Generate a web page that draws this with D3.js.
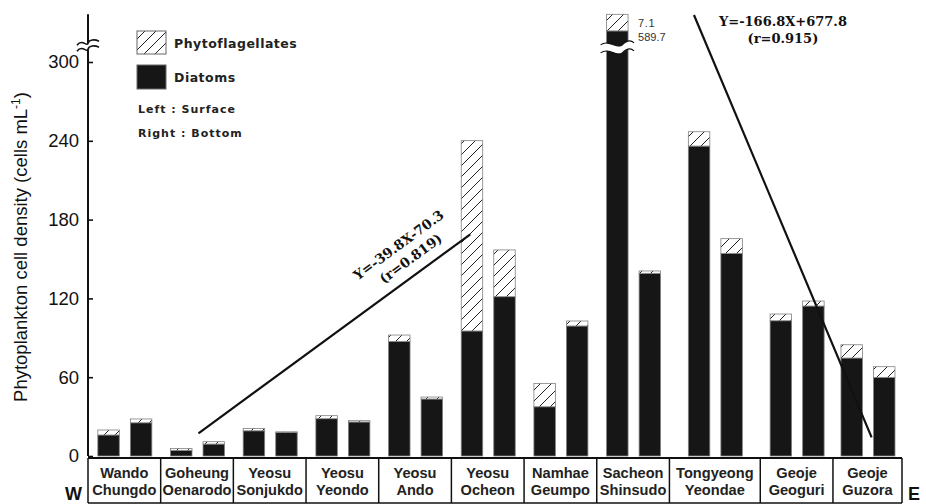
<!DOCTYPE html>
<html>
<head>
<meta charset="utf-8">
<script src="https://cdn.jsdelivr.net/npm/d3@7"></script>
<style>
  html, body { margin: 0; padding: 0; background: #fff; }
  svg { display: block; }
</style>
</head>
<body>
<svg id="chart" width="926" height="504"></svg>
<script>
// Stations, west to east (two-line labels)
const stations = [
  ["Wando", "Chungdo"], ["Goheung", "Oenarodo"], ["Yeosu", "Sonjukdo"],
  ["Yeosu", "Yeondo"], ["Yeosu", "Ando"], ["Yeosu", "Ocheon"],
  ["Namhae", "Geumpo"], ["Sacheon", "Shinsudo"], ["Tongyeong", "Yeondae"],
  ["Geoje", "Geoguri"], ["Geoje", "Guzora"]
];
// Cell densities (cells mL-1)
const surfaceDiatoms = [16.0, 4.3, 19.2, 28.4, 87.3, 95.2, 37.5, 589.7, 236.0, 103.0, 74.6];
const surfacePhyto   = [3.8, 1.5, 1.8, 2.3, 4.8, 144.9, 17.8, 7.1, 10.9, 5.1, 10.1];
const bottomDiatoms  = [25.3, 9.1, 18.0, 25.9, 43.4, 121.3, 99.0, 139.1, 154.3, 114.2, 59.9];
const bottomPhyto    = [2.9, 1.8, 0.4, 1.0, 1.5, 35.6, 3.8, 1.8, 11.2, 3.8, 8.1];
const yTicks = [0, 60, 120, 180, 240, 300];

// Relative width of each station cell along the x axis
const cellSpan = [1, 1, 1, 1, 1, 1, 1, 1, 1.25, 1, 0.95];

// Regression lines: [station index, position within cell, density]
const trendWest = [[1, 0.52, 17.3], [5, 0.26, 168.8]];
const trendEast = [[8, 0.27, 335.8], [10, 0.56, 14.2]];
const trendWestText = ["Y=-39.8X-70.3", "(r=0.819)"];
const trendEastText = ["Y=-166.8X+677.8", "(r=0.915)"];

const svg = d3.select("#chart");
const left = 88, right = 902, base = 456, top300 = 62;
const BREAK = 310;   // where the axis is interrupted
const BREAK_HI = 582; // values resume here above the break

// Linear axis scale and a broken scale for bars above the break
const yLin = d3.scaleLinear().domain([0, 300]).range([base, top300]);
const y = d3.scaleLinear()
  .domain([0, BREAK, BREAK_HI, 600])
  .range([yLin(0), yLin(BREAK), yLin(BREAK), yLin(342)]);

// Cell layout along x
const cum = [0];
cellSpan.forEach((s, i) => cum.push(cum[i] + s));
const xCell = d3.scaleLinear().domain([0, cum[cum.length - 1]]).range([left, right]);
const cellX0 = i => xCell(cum[i]);
const cellX1 = i => xCell(cum[i + 1]);
const cellMid = i => (cellX0(i) + cellX1(i)) / 2;
const side = d3.scaleBand().domain(["surface", "bottom"]).range([-26.5, 27.5]).paddingInner(0.34);

// Hatch pattern
const defs = svg.append("defs");
const pat = defs.append("pattern").attr("id", "hatch")
  .attr("patternUnits", "userSpaceOnUse").attr("width", 11).attr("height", 11);
pat.append("rect").attr("width", 11).attr("height", 11).attr("fill", "#fff");
pat.append("path").attr("d", "M-1,1 l2,-2 M0,11 l11,-11 M10,12 l2,-2")
  .attr("stroke", "#222").attr("stroke-width", 1);

const BAR = "#161616", EDGE = "#808080";

// Bars
const bars = [];
stations.forEach((st, i) => {
  bars.push({ i, side: "surface", d: surfaceDiatoms[i], p: surfacePhyto[i] });
  bars.push({ i, side: "bottom", d: bottomDiatoms[i], p: bottomPhyto[i] });
});
const g = svg.append("g");
const bw = side.bandwidth();
bars.forEach(b => {
  const x = cellMid(b.i) + side(b.side);
  g.append("rect").attr("x", x).attr("width", bw)
    .attr("y", y(b.d)).attr("height", y(0) - y(b.d))
    .attr("fill", BAR).attr("stroke", EDGE).attr("stroke-width", 0.8);
  g.append("rect").attr("x", x).attr("width", bw)
    .attr("y", y(b.d + b.p)).attr("height", y(b.d) - y(b.d + b.p))
    .attr("fill", "url(#hatch)").attr("stroke", EDGE).attr("stroke-width", 0.8);
});

// Break symbol across the tallest bar
const tall = bars.reduce((a, b) => (a.d + a.p > b.d + b.p ? a : b));
{
  const x0 = cellMid(tall.i) + side(tall.side) - 6, x1 = x0 + bw + 12;
  const yc = yLin(BREAK);
  const w = x1 - x0;
  const wave = (yy) =>
    `M${x0},${yy} C${x0 + w * 0.25},${yy - 6} ${x0 + w * 0.5},${yy + 5} ${x0 + w * 0.65},${yy}` +
    ` S${x0 + w * 0.9},${yy - 5} ${x1},${yy - 2}`;
  const up = yc - 4, dn = yc + 4;
  g.append("path")
    .attr("d", `M${x0},${up} C${x0 + w * 0.25},${up - 6} ${x0 + w * 0.5},${up + 5} ${x0 + w * 0.65},${up}` +
               ` S${x0 + w * 0.9},${up - 5} ${x1},${up - 2} L${x1},${dn - 2}` +
               ` C${x0 + w * 0.9},${dn - 5} ${x0 + w * 0.8},${dn - 4} ${x0 + w * 0.65},${dn}` +
               ` S${x0 + w * 0.25},${dn - 6} ${x0},${dn} Z`)
    .attr("fill", "#fff").attr("stroke", "none");
  g.append("path").attr("d", wave(up)).attr("fill", "none").attr("stroke", "#111").attr("stroke-width", 1.2);
  g.append("path").attr("d", wave(dn)).attr("fill", "none").attr("stroke", "#111").attr("stroke-width", 1.2);
  // value labels for the broken bar
  const lx = cellMid(tall.i) + side(tall.side) + bw + 10;
  g.append("text").attr("x", lx).attr("y", (y(tall.d) + y(tall.d + tall.p)) / 2 + 4)
    .attr("font-family", "Liberation Sans, Arial, sans-serif").attr("font-size", 11)
    .attr("letter-spacing", 0.6).attr("fill", "#333").text(tall.p.toFixed(1));
  g.append("text").attr("x", lx).attr("y", y(tall.d) + 10)
    .attr("font-family", "Liberation Sans, Arial, sans-serif").attr("font-size", 11)
    .attr("fill", "#333").text(tall.d.toFixed(1));
}

// Y axis
const axisTop = y(d3.max(bars, b => b.d + b.p));
const yAxis = d3.axisLeft(yLin).tickValues(yTicks).tickSizeInner(-5).tickSizeOuter(0).tickPadding(9);
const ag = svg.append("g").attr("transform", `translate(${left},0)`).call(yAxis);
ag.select(".domain").remove();
ag.selectAll(".tick line").attr("stroke", "#111").attr("stroke-width", 1.6);
ag.selectAll(".tick text").attr("font-family", "Liberation Sans, Arial, sans-serif")
  .attr("font-size", 18.5).attr("fill", "#111");
const axBreak = yLin(312);
svg.append("line").attr("x1", left).attr("x2", left).attr("y1", base).attr("y2", axBreak + 3)
  .attr("stroke", "#111").attr("stroke-width", 2);
svg.append("line").attr("x1", left).attr("x2", left).attr("y1", axBreak - 3).attr("y2", axisTop)
  .attr("stroke", "#111").attr("stroke-width", 2);
[-3, 3].forEach(dy => {
  const yy = axBreak + dy, a = left - 11, bx = left + 11;
  svg.append("path")
    .attr("d", `M${a},${yy + 2} C${a + 5},${yy - 5} ${a + 10},${yy + 4} ${left},${yy} S${bx - 4},${yy - 4} ${bx},${yy - 2}`)
    .attr("fill", "none").attr("stroke", "#111").attr("stroke-width", 1.6);
});

// Y axis title
const yt = svg.append("text")
  .attr("transform", `translate(27,${247}) rotate(-90)`)
  .attr("text-anchor", "middle")
  .attr("font-family", "Liberation Sans, Arial, sans-serif").attr("font-size", 18.5).attr("fill", "#111");
yt.append("tspan").text("Phytoplankton cell density (cells mL");
yt.append("tspan").attr("dy", -7).attr("font-size", 12).text("-1");
yt.append("tspan").attr("dy", 7).text(")");

// Station cells along the bottom
const boxTop = base + 2, boxBot = 503;
const cg = svg.append("g");
cg.append("line").attr("x1", left).attr("x2", right).attr("y1", boxTop).attr("y2", boxTop)
  .attr("stroke", "#111").attr("stroke-width", 1.8);
cg.append("line").attr("x1", left).attr("x2", right).attr("y1", boxBot).attr("y2", boxBot)
  .attr("stroke", "#111").attr("stroke-width", 1.5);
d3.range(stations.length + 1).forEach(k => {
  const xx = xCell(cum[k]);
  cg.append("line").attr("x1", xx).attr("x2", xx).attr("y1", boxTop).attr("y2", boxBot)
    .attr("stroke", "#111").attr("stroke-width", 1.5);
});
stations.forEach((st, i) => {
  const t = cg.append("text").attr("text-anchor", "middle")
    .attr("font-family", "Liberation Sans, Arial, sans-serif").attr("font-weight", "bold")
    .attr("font-size", 14.6).attr("fill", "#222");
  t.append("tspan").attr("x", cellMid(i)).attr("y", 478).text(st[0]);
  t.append("tspan").attr("x", cellMid(i)).attr("y", 494.5).text(st[1]);
});
svg.append("text").attr("x", 65).attr("y", 500).attr("font-family", "Liberation Sans, Arial, sans-serif")
  .attr("font-weight", "bold").attr("font-size", 18).attr("fill", "#111").text("W");
svg.append("text").attr("x", 908).attr("y", 500).attr("font-family", "Liberation Sans, Arial, sans-serif")
  .attr("font-weight", "bold").attr("font-size", 18).attr("fill", "#111").text("E");

// Legend
const lg = svg.append("g").attr("font-family", "DejaVu Sans, sans-serif").attr("font-weight", "bold").attr("fill", "#222");
lg.append("rect").attr("x", 137).attr("y", 31).attr("width", 29).attr("height", 23)
  .attr("fill", "url(#hatch)").attr("stroke", "#666").attr("stroke-width", 1);
lg.append("rect").attr("x", 137).attr("y", 65).attr("width", 29).attr("height", 24)
  .attr("fill", BAR).attr("stroke", "#666").attr("stroke-width", 1);
lg.append("text").attr("x", 174).attr("y", 48).attr("font-size", 12.5).attr("letter-spacing", 0.5).text("Phytoflagellates");
lg.append("text").attr("x", 174).attr("y", 82).attr("font-size", 12.5).attr("letter-spacing", 0.5).text("Diatoms");
lg.append("text").attr("x", 138).attr("y", 113).attr("font-size", 11).attr("letter-spacing", 1).text("Left : Surface");
lg.append("text").attr("x", 138).attr("y", 137).attr("font-size", 11).attr("letter-spacing", 1).text("Right : Bottom");

// Regression lines
const trendPt = ([i, f, v]) => [cellX0(i) + f * (cellX1(i) - cellX0(i)), yLin(v)];
const line = d3.line();
[trendWest, trendEast].forEach(tr => {
  svg.append("path").attr("d", line(tr.map(trendPt)))
    .attr("fill", "none").attr("stroke", "#111").attr("stroke-width", 2.2);
});

// West trend label, written along the line
{
  const [p0, p1] = trendWest.map(trendPt);
  const ang = Math.atan2(p1[1] - p0[1], p1[0] - p0[0]);
  const t = 0.815;
  const cx = p0[0] + t * (p1[0] - p0[0]), cy = p0[1] + t * (p1[1] - p0[1]);
  const lab = svg.append("g").attr("transform", `translate(${cx},${cy}) rotate(${ang * 180 / Math.PI})`)
    .attr("font-family", "DejaVu Serif, serif").attr("font-weight", "bold").attr("font-size", 13.5)
    .attr("fill", "#111").attr("text-anchor", "middle");
  lab.append("text").attr("x", -2).attr("y", -29).text(trendWestText[0]);
  lab.append("text").attr("x", 0).attr("y", -11).text(trendWestText[1]);
}
// East trend label
{
  const lab = svg.append("g").attr("font-family", "DejaVu Serif, serif").attr("font-weight", "bold")
    .attr("font-size", 13).attr("fill", "#111").attr("text-anchor", "middle");
  const cx = trendPt(trendEast[0])[0] + 89;
  lab.append("text").attr("x", cx).attr("y", 26).text(trendEastText[0]);
  lab.append("text").attr("x", cx).attr("y", 43).text(trendEastText[1]);
}
</script>
</body>
</html>
